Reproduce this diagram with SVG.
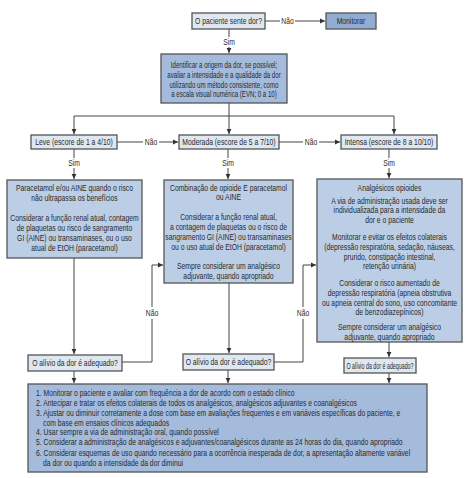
<svg xmlns="http://www.w3.org/2000/svg" width="474" height="478" viewBox="0 0 474 478">
<defs>
<style>
.t{font-family:"Liberation Sans",Arial,sans-serif;font-size:8.5px;fill:#2a2a2a}
.c{text-anchor:middle}
.lt{fill:#dfe7f1;stroke:#555;stroke-width:1.3}
.md{fill:#bccee5;stroke:#555;stroke-width:1.3}
.dk{fill:#a4bbdc;stroke:#555;stroke-width:1.3}
.ln{fill:none;stroke:#444;stroke-width:1}
.bg{fill:#fff}
</style>
<marker id="ah" markerWidth="6" markerHeight="6" refX="5" refY="3" orient="auto" markerUnits="userSpaceOnUse">
<path d="M0,0.6 L5,3 L0,5.4 Z" fill="#333"/>
</marker>
</defs>
<rect width="474" height="478" fill="#fff"/>

<g id="connectors">
<path class="ln" d="M265,21 H325" marker-end="url(#ah)"/>
<path class="ln" d="M229,29 V53" marker-end="url(#ah)"/>
<path class="ln" d="M229,103 V134" marker-end="url(#ah)"/>
<path class="ln" d="M74,116 H394 V134" marker-end="url(#ah)"/>
<path class="ln" d="M74,116 V134" marker-end="url(#ah)"/>
<path class="ln" d="M117,142 H178" marker-end="url(#ah)"/>
<path class="ln" d="M279,142 H340" marker-end="url(#ah)"/>
<path class="ln" d="M74,149 V179" marker-end="url(#ah)"/>
<path class="ln" d="M228,149 V179" marker-end="url(#ah)"/>
<path class="ln" d="M389,149 V178" marker-end="url(#ah)"/>
<path class="ln" d="M74,258 V354" marker-end="url(#ah)"/>
<path class="ln" d="M229,283 V353" marker-end="url(#ah)"/>
<path class="ln" d="M389,342 V357" marker-end="url(#ah)"/>
<path class="ln" d="M122,362 H152 V265 H163" marker-end="url(#ah)"/>
<path class="ln" d="M274,362 H303 V265 H316" marker-end="url(#ah)"/>
<path class="ln" d="M74,371 V383" marker-end="url(#ah)"/>
<path class="ln" d="M228,370 V383" marker-end="url(#ah)"/>
<path class="ln" d="M389,373 V383" marker-end="url(#ah)"/>
<rect class="bg" x="280" y="16" width="15" height="10"/>
<text class="t c" transform="translate(287.5,24) scale(0.8,1)">Não</text>
<rect class="bg" x="221" y="37" width="16" height="10"/>
<text class="t c" transform="translate(229,45) scale(0.8,1)">Sim</text>
<rect class="bg" x="143" y="137" width="16" height="10"/>
<text class="t c" transform="translate(151,145) scale(0.8,1)">Não</text>
<rect class="bg" x="303" y="137" width="16" height="10"/>
<text class="t c" transform="translate(311,145) scale(0.8,1)">Não</text>
<rect class="bg" x="66" y="158" width="16" height="10"/>
<text class="t c" transform="translate(74,166) scale(0.8,1)">Sim</text>
<rect class="bg" x="220" y="158" width="16" height="10"/>
<text class="t c" transform="translate(228,166) scale(0.8,1)">Sim</text>
<rect class="bg" x="381" y="158" width="16" height="10"/>
<text class="t c" transform="translate(389,166) scale(0.8,1)">Sim</text>
<rect class="bg" x="144" y="307" width="16" height="12"/>
<text class="t c" transform="translate(152,316) scale(0.8,1)">Não</text>
<rect class="bg" x="295" y="307" width="16" height="12"/>
<text class="t c" transform="translate(303,316) scale(0.8,1)">Não</text>
</g>

<g id="q-dor">
<rect class="lt" x="192" y="13" width="73" height="16"/>
<text class="t c" transform="translate(228.5,24) scale(0.8,1)">O paciente sente dor?</text>
</g>
<g id="monitorar">
<rect class="dk" x="326" y="13" width="50" height="16" style="fill:#93acd2"/>
<text class="t c" transform="translate(351,24) scale(0.8,1)">Monitorar</text>
</g>
<g id="identificar">
<rect class="dk" x="161" y="54" width="126" height="49"/>
<text class="t c" transform="translate(224,68) scale(0.72,1)">Identificar a origem da dor, se possível;</text>
<text class="t c" transform="translate(224,78) scale(0.72,1)">avaliar a intensidade e a qualidade da dor</text>
<text class="t c" transform="translate(224,88) scale(0.72,1)">utilizando um método consistente, como</text>
<text class="t c" transform="translate(224,97) scale(0.72,1)">a escala visual numérica (EVN; 0 a 10)</text>
</g>
<g id="leve">
<rect class="lt" x="31" y="135" width="86" height="14"/>
<text class="t c" transform="translate(74,145) scale(0.8,1)">Leve (escore de 1 a 4/10)</text>
</g>
<g id="moderada">
<rect class="lt" x="179" y="135" width="100" height="14"/>
<text class="t c" transform="translate(229,145) scale(0.8,1)">Moderada (escore de 5 a 7/10)</text>
</g>
<g id="intensa">
<rect class="lt" x="341" y="135" width="96" height="14"/>
<text class="t c" transform="translate(389,145) scale(0.8,1)">Intensa (escore de 8 a 10/10)</text>
</g>
<g id="trat-leve">
<rect class="md" x="7" y="180" width="135" height="78"/>
<text class="t c" transform="translate(74.5,191) scale(0.8,1)">Paracetamol e/ou AINE quando o risco</text>
<text class="t c" transform="translate(74.5,201) scale(0.8,1)">não ultrapassa os benefícios</text>
<text class="t c" transform="translate(74.5,221) scale(0.8,1)">Considerar a função renal atual, contagem</text>
<text class="t c" transform="translate(74.5,231) scale(0.8,1)">de plaquetas ou risco de sangramento</text>
<text class="t c" transform="translate(74.5,241) scale(0.8,1)">GI (AINE) ou transaminases, ou o uso</text>
<text class="t c" transform="translate(74.5,251) scale(0.8,1)">atual de EtOH (paracetamol)</text>
</g>
<g id="trat-moderada">
<rect class="md" x="164" y="180" width="129" height="103"/>
<text class="t c" transform="translate(228.5,191) scale(0.8,1)">Combinação de opioide E paracetamol</text>
<text class="t c" transform="translate(228.5,200) scale(0.8,1)">ou AINE</text>
<text class="t c" transform="translate(228.5,220) scale(0.8,1)">Considerar a função renal atual,</text>
<text class="t c" transform="translate(228.5,230) scale(0.8,1)">a contagem de plaquetas ou o risco de</text>
<text class="t c" transform="translate(228.5,240) scale(0.8,1)">sangramento GI (AINE) ou transaminases</text>
<text class="t c" transform="translate(228.5,250) scale(0.8,1)">ou o uso atual de EtOH (paracetamol)</text>
<text class="t c" transform="translate(228.5,269) scale(0.8,1)">Sempre considerar um analgésico</text>
<text class="t c" transform="translate(228.5,279) scale(0.8,1)">adjuvante, quando apropriado</text>
</g>
<g id="trat-intensa">
<rect class="md" x="317" y="179" width="145" height="163"/>
<text class="t c" transform="translate(389.5,191) scale(0.8,1)">Analgésicos opioides</text>
<text class="t c" transform="translate(389.5,204) scale(0.8,1)">A via de administração usada deve ser</text>
<text class="t c" transform="translate(389.5,213) scale(0.8,1)">individualizada para a intensidade da</text>
<text class="t c" transform="translate(389.5,223) scale(0.8,1)">dor e o paciente</text>
<text class="t c" transform="translate(389.5,240) scale(0.8,1)">Monitorar e evitar os efeitos colaterais</text>
<text class="t c" transform="translate(389.5,250) scale(0.8,1)">(depressão respiratória, sedação, náuseas,</text>
<text class="t c" transform="translate(389.5,260) scale(0.8,1)">prurido, constipação intestinal,</text>
<text class="t c" transform="translate(389.5,269) scale(0.8,1)">retenção urinária)</text>
<text class="t c" transform="translate(389.5,286) scale(0.8,1)">Considerar o risco aumentado de</text>
<text class="t c" transform="translate(389.5,296) scale(0.8,1)">depressão respiratória (apneia obstrutiva</text>
<text class="t c" transform="translate(389.5,306) scale(0.8,1)">ou apneia central do sono, uso concomitante</text>
<text class="t c" transform="translate(389.5,315) scale(0.8,1)">de benzodiazepínicos)</text>
<text class="t c" transform="translate(389.5,330) scale(0.8,1)">Sempre considerar um analgésico</text>
<text class="t c" transform="translate(389.5,340) scale(0.8,1)">adjuvante, quando apropriado</text>
</g>
<g id="alivio-1">
<rect class="lt" x="28" y="355" width="94" height="16"/>
<text class="t c" transform="translate(75,366) scale(0.8,1)">O alívio da dor é adequado?</text>
</g>
<g id="alivio-2">
<rect class="lt" x="183" y="354" width="91" height="16"/>
<text class="t c" transform="translate(228.5,365) scale(0.8,1)">O alívio da dor é adequado?</text>
</g>
<g id="alivio-3">
<rect class="lt" x="344" y="358" width="72" height="15"/>
<text class="t c" x="380" y="368.5" textLength="67" lengthAdjust="spacingAndGlyphs">O alívio da dor é adequado?</text>
</g>
<g id="recomendacoes">
<rect class="dk" x="28" y="384" width="399" height="88"/>
<text class="t" transform="translate(36,396) scale(0.8,1)">1. Monitorar o paciente e avaliar com frequência a dor de acordo com o estado clínico</text>
<text class="t" transform="translate(36,406) scale(0.8,1)">2. Antecipar e tratar os efeitos colaterais de todos os analgésicos, analgésicos adjuvantes e coanalgésicos</text>
<text class="t" transform="translate(36,416) scale(0.8,1)">3. Ajustar ou diminuir corretamente a dose com base em avaliações frequentes e em variáveis específicas do paciente, e</text>
<text class="t" transform="translate(43,426) scale(0.8,1)">com base em ensaios clínicos adequados</text>
<text class="t" transform="translate(36,435) scale(0.8,1)">4. Usar sempre a via de administração oral, quando possível</text>
<text class="t" transform="translate(36,445) scale(0.8,1)">5. Considerar a administração de analgésicos e adjuvantes/coanalgésicos durante as 24 horas do dia, quando apropriado</text>
<text class="t" transform="translate(36,456) scale(0.8,1)">6. Considerar esquemas de uso quando necessário para a ocorrência inesperada de dor, a apresentação altamente variável</text>
<text class="t" transform="translate(43,466) scale(0.8,1)">da dor ou quando a intensidade da dor diminui</text>
</g>
</svg>
